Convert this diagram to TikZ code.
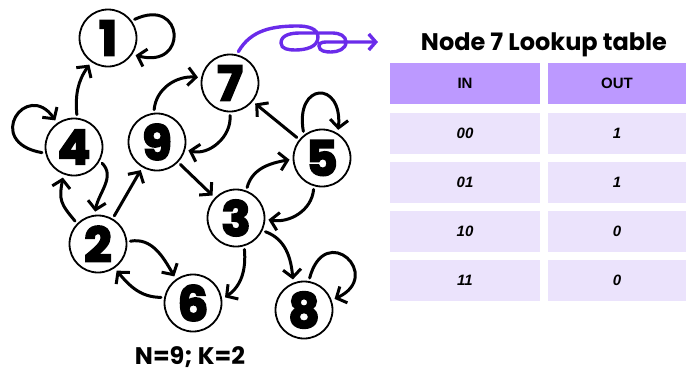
\documentclass[tikz,border=0pt]{standalone}
\usepackage{fontspec}
\setmainfont{Liberation Sans}
\newfontfamily\titlefont{Poppins}
\newfontfamily\numfont{Poppins}[BoldFeatures={FakeBold=4}]
\usetikzlibrary{arrows.meta, positioning, calc}

\definecolor{hdrpurple}{HTML}{BC99FF}
\definecolor{rowlilac}{HTML}{EBE3FC}
\definecolor{squiggle}{HTML}{6A2BEA}

\begin{document}
\begin{tikzpicture}[
    x=1pt, y=1pt,
    state/.style={circle, draw=black, line width=1.8pt, fill=white, minimum size=57pt, inner sep=0pt, outer sep=4pt, font=\numfont\bfseries\fontsize{48}{48}\selectfont},
    rel/.style={-{Straight Barb[length=8pt,width=18pt]}, line width=3pt, line cap=round},
    squiggly/.style={-{Straight Barb[length=7pt,width=16pt]}, draw=squiggle, line width=3.4pt, line cap=round},
    hdrcell/.style={fill=hdrpurple, minimum height=41pt, inner sep=0pt, font=\bfseries\fontsize{15}{15}\selectfont},
    cell/.style={fill=rowlilac, minimum height=41pt, inner sep=0pt, font=\bfseries\itshape\fontsize{15}{15}\selectfont},
    heading/.style={font=\titlefont\bfseries\fontsize{24}{24}\selectfont}
]
\useasboundingbox (0,0) rectangle (686,-373);

% Zustaende des Netzes
\node[state] (n1) at (108,-38) {1};
\node[state] (n7) at (230,-83) {7};
\node[state] (n4) at (74,-147) {4};
\node[state] (n9) at (157,-142) {9};
\node[state] (n5) at (322,-158) {5};
\node[state] (n3) at (236,-218) {3};
\node[state] (n2) at (98,-244) {2};
\node[state] (n6) at (193,-303) {6};
\node[state] (n8) at (304,-310) {8};

% Beschriftung unten
\node[heading, anchor=base] (caption) at (190,-364) {N=9; K=2};

% Kanten
\draw[rel] (n4.85) to[out=95,in=-125] (n1.235);
\draw[rel] (n1.35) .. controls +(25:55) and +(-15:55) .. (n1.-32);
\draw[rel] (n4.190) .. controls +(170:60) and +(125:50) .. (n4.125);
\draw[rel] (n4.-30) to[out=-45,in=80] (n2.95);
\draw[rel] (n2.135) to[out=130,in=-100,looseness=1.3] (n4.250);
\draw[rel] (n2) -- (n9);
\draw[rel] (n9.95) to[out=85,in=175] (n7.170);
\draw[rel] (n7.-90) to[out=-85,in=-15] (n9.-15);
\draw[rel] (n9) -- (n3);
\draw[rel] (n3.70) to[out=75,in=190] (n5.183);
\draw[rel] (n5.-105) to[out=-95,in=-10] (n3.-3);
\draw[rel] (n5) -- (n7);
\draw[rel] (n5.125) .. controls +(100:50) and +(85:50) .. (n5.60);
\draw[rel] (n3.-25) to[out=-20,in=95] (n8.110);
\draw[rel] (n3.-75) to[out=-85,in=35] (n6.10);
\draw[rel] (n2.5) to[out=10,in=120] (n6.125);
\draw[rel] (n6.170) to[out=180,in=-50] (n2.-55);
\draw[rel] (n8.80) .. controls +(75:60) and +(25:55) .. (n8.20);

% Schnoerkel von Knoten 7 zur Tabelle
\coordinate (squiggleEnd) at (378,-42);
\draw[squiggly] (n7.75) to[out=60,in=180] (298,-26) to[out=0,in=90] (318,-37)
    to[out=-90,in=0] (295,-50) to[out=180,in=-90] (281,-43) to[out=90,in=180] (300,-33)
    to[out=0,in=180] (333,-33) to[out=0,in=90] (346,-42) to[out=-90,in=0] (331,-52)
    to[out=180,in=-90] (319,-46) to[out=90,in=180] (330,-42) -- (squiggleEnd);

% Tabelle
\node[heading, anchor=base] (title) at (544,-50.7) {Node 7 Lookup table};
\node[hdrcell, minimum width=150pt] (hdrIn) at (465,-83.5) {IN};
\node[hdrcell, minimum width=138pt] (hdrOut) at (617,-83.5) {OUT};
\foreach \i/\a/\b in {1/00/1, 2/01/1, 3/10/0, 4/11/0} {
    \node[cell, minimum width=150pt] (in\i) at (465,{-133.5-49*(\i-1)}) {\a};
    \node[cell, minimum width=138pt] (out\i) at (617,{-133.5-49*(\i-1)}) {\b};
}

\end{tikzpicture}
\end{document}
